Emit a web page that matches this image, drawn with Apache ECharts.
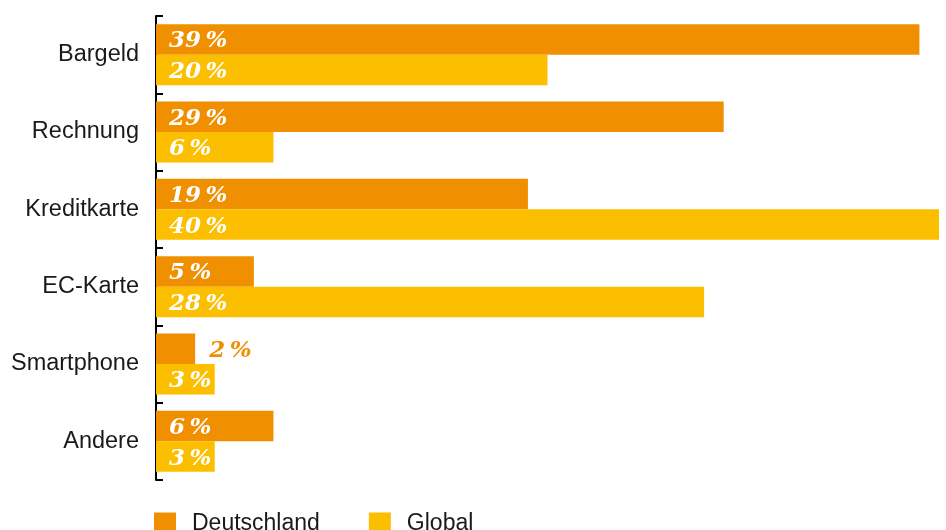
<!DOCTYPE html>
<html>
<head>
<meta charset="utf-8">
<script src="https://cdn.jsdelivr.net/npm/echarts@6/dist/echarts.min.js"></script>
<style>
  html, body { margin: 0; padding: 0; background: #fff; }
  #main { width: 946px; height: 530px; }
</style>
</head>
<body>
<div id="main"></div>
<script>
// Zahlungsarten
var categories = ['Bargeld', 'Rechnung', 'Kreditkarte', 'EC-Karte', 'Smartphone', 'Andere'];
var deutschland = [39, 29, 19, 5, 2, 6];
var globalVals = [20, 6, 40, 28, 3, 3];

var orange = '#f08f00';
var yellow = '#fbbf00';

// kleine Werte passen nicht in den Balken -> Label rechts daneben
function toData(arr, color) {
  return arr.map(function (v) {
    if (v < 3) {
      return { value: v, label: { position: 'right', distance: 14, color: color } };
    }
    return v;
  });
}

var labelStyle = {
  show: true,
  position: 'insideLeft',
  distance: 13,
  offset: [0, 2],
  color: '#fff',
  fontFamily: 'DejaVu Serif',
  fontStyle: 'italic',
  fontWeight: 'bold',
  fontSize: 23,
  formatter: function (p) { return p.value + '\u2009%'; }
};

var myChart = echarts.init(document.getElementById('main'));
var option = {
  animation: false,
  grid: { left: 156, right: 7, top: 16, height: 464 },
  legend: {
    left: 154,
    top: 512,
    padding: 0,
    itemWidth: 22,
    itemHeight: 22,
    itemGap: 49,
    icon: 'rect',
    textStyle: { fontFamily: 'Liberation Sans', fontSize: 23, color: '#1a1a1a', padding: [0, 0, 0, 11] },
    data: ['Deutschland', 'Global']
  },
  xAxis: {
    type: 'value',
    min: 0,
    max: 40,
    show: false
  },
  yAxis: {
    type: 'category',
    data: categories,
    inverse: true,
    axisLine: { show: true, lineStyle: { color: '#000', width: 2 } },
    axisTick: { show: true, inside: true, length: 7, lineStyle: { color: '#000', width: 2 } },
    axisLabel: { fontFamily: 'Liberation Sans', fontSize: 23.5, color: '#1a1a1a', margin: 17, padding: [10, 0, 0, 0] }
  },
  series: [
    {
      name: 'Deutschland',
      type: 'bar',
      data: toData(deutschland, orange),
      itemStyle: { color: orange },
      barWidth: 30.5,
      barGap: '0%',
      label: labelStyle
    },
    {
      name: 'Global',
      type: 'bar',
      data: toData(globalVals, yellow),
      itemStyle: { color: yellow },
      barWidth: 30.5,
      barGap: '0%',
      label: labelStyle
    }
  ]
};
myChart.setOption(option);
</script>
</body>
</html>
